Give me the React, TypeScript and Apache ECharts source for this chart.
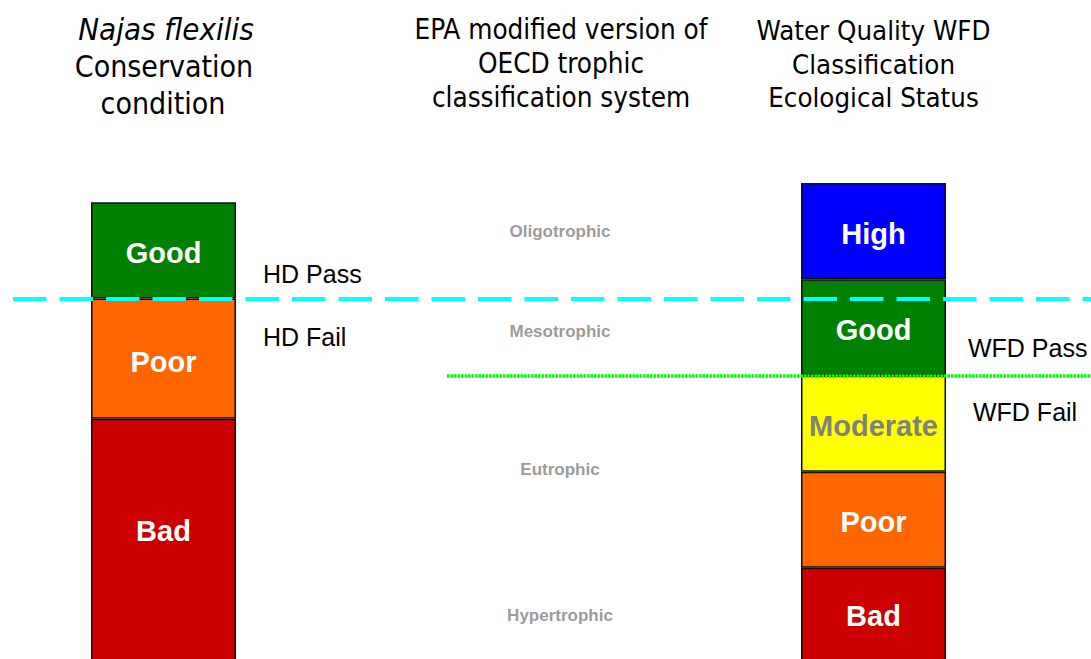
import React, { useEffect, useRef } from 'react';
import * as echarts from 'echarts';

// ---- data ----
const najasClasses = ['Bad', 'Poor', 'Good'];
const najasHeights = [2.55, 1.25, 1.0];
const najasColors = ['#CC0000', '#FF6600', '#008000'];

const wfdClasses = ['Bad', 'Poor', 'Moderate', 'Good', 'High'];
const wfdHeights = [1, 1, 1, 1, 1];
const wfdColors = ['#CC0000', '#FF6600', '#FFFF00', '#008000', '#0000FF'];

const trophicLabels = ['Oligotrophic', 'Mesotrophic', 'Eutrophic', 'Hypertrophic'];
const trophicLevels = [4.5, 3.46, 2.02, 0.5];

const hdThreshold = 3.8;
const wfdThreshold = 3.0;
const yMax = 6.8;

const leftTitle = ['Najas flexilis', 'Conservation', 'condition'];
const midTitle = ['EPA modified version of', 'OECD trophic', 'classification system'];
const rightTitle = ['Water Quality WFD', 'Classification', 'Ecological Status'];

const ARIAL = "'Liberation Sans', Arial, sans-serif";
const TITLE_FONT = "'DejaVu Sans Condensed', 'DejaVu Sans', sans-serif";

export default function App() {
  const ref = useRef<HTMLDivElement>(null);
  useEffect(() => {
    if (!ref.current) return;
    const chart = echarts.init(ref.current, null, { renderer: 'svg' });

    const gridBase = { top: 10, bottom: 0 };
    const grids = [
      { ...gridBase, left: 91, width: 145 },
      { ...gridBase, left: 801, width: 145 },
      { ...gridBase, left: 447, width: 226 },
      { ...gridBase, left: 13, right: 0 },
      { ...gridBase, left: 447, right: 0 },
    ];

    const barLabel = {
      show: true,
      position: 'inside',
      formatter: '{a}',
      fontFamily: ARIAL,
      fontWeight: 'bold',
      fontSize: 29,
      color: '#FFFFFF',
    };

    const najasSeries = najasClasses.map((name, i) => ({
      type: 'bar',
      name,
      xAxisIndex: 0,
      yAxisIndex: 0,
      stack: 'najas',
      barWidth: '100%',
      data: [najasHeights[i]],
      itemStyle: { color: najasColors[i], borderColor: '#111', borderWidth: 1.5 },
      label: { ...barLabel, offset: name === 'Bad' ? [0, -10] : [0, 3] },
    }));

    const wfdSeries = wfdClasses.map((name, i) => ({
      type: 'bar',
      name,
      xAxisIndex: 1,
      yAxisIndex: 1,
      stack: 'wfd',
      barWidth: '100%',
      data: [wfdHeights[i]],
      itemStyle: { color: wfdColors[i], borderColor: '#111', borderWidth: 1.5 },
      label: {
        ...barLabel,
        offset: name === 'Bad' ? [0, 0] : [0, 2.5],
        color: name === 'Moderate' ? '#808080' : '#FFFFFF',
      },
    }));

    const trophicSeries = {
      type: 'scatter',
      xAxisIndex: 2,
      yAxisIndex: 2,
      symbolSize: 1,
      itemStyle: { color: 'rgba(0,0,0,0)' },
      data: trophicLevels.map((v, i) => ({ value: [0, v], name: trophicLabels[i] })),
      label: {
        show: true,
        position: 'inside',
        formatter: '{b}',
        color: '#808080',
        fontWeight: 'bold',
        fontSize: 17,
        fontFamily: ARIAL,
      },
    };

    const hdLine = {
      type: 'line',
      xAxisIndex: 3,
      yAxisIndex: 3,
      data: [],
      z: 10,
      markLine: {
        silent: true,
        symbol: 'none',
        label: { show: false },
        lineStyle: { color: '#00FFFF', width: 4, type: [33.5, 13] },
        data: [{ yAxis: hdThreshold }],
        z: 10,
      },
    };

    const wfdLine = {
      type: 'line',
      xAxisIndex: 4,
      yAxisIndex: 4,
      data: [],
      z: 10,
      markLine: {
        silent: true,
        symbol: 'none',
        label: { show: false },
        lineStyle: { color: '#00FF00', width: 3.5, type: [2.6, 0.9] },
        data: [{ yAxis: wfdThreshold }],
        z: 10,
      },
    };

    const titleText = (text: string, x: number, y: number, size: number, italic = false) => ({
      type: 'text',
      x,
      y,
      style: {
        text,
        align: 'center',
        verticalAlign: 'middle',
        fontSize: size,
        fontFamily: TITLE_FONT,
        fontStyle: italic ? 'italic' : 'normal',
        fill: '#000',
      },
    });
    const noteText = (text: string, x: number, y: number) => ({
      type: 'text',
      x,
      y,
      style: {
        text,
        align: 'left',
        verticalAlign: 'middle',
        fontSize: 25,
        fontFamily: ARIAL,
        fill: '#000',
      },
    });

    const graphics = [
      titleText(leftTitle[0], 166, 29, 31, true),
      titleText(leftTitle[1], 164, 66, 30),
      titleText(leftTitle[2], 163, 103, 30),
      titleText(midTitle[0], 561, 29, 27.6),
      titleText(midTitle[1], 561, 63, 27.6),
      titleText(midTitle[2], 561, 97, 27.6),
      titleText(rightTitle[0], 873.5, 30, 27.4),
      titleText(rightTitle[1], 873.5, 64, 27.4),
      titleText(rightTitle[2], 873.5, 97, 27.4),
      noteText('HD Pass', 263, 274),
      noteText('HD Fail', 263, 337),
      noteText('WFD Pass', 968, 348),
      noteText('WFD Fail', 973, 412),
    ];

    const option = {
      animation: false,
      backgroundColor: '#FFFFFF',
      grid: grids,
      xAxis: grids.map((_, i) => ({ type: 'category', gridIndex: i, data: ['c'], show: false })),
      yAxis: grids.map((_, i) => ({ type: 'value', gridIndex: i, min: 0, max: yMax, show: false })),
      series: [...najasSeries, ...wfdSeries, trophicSeries, hdLine, wfdLine],
      graphic: graphics,
    };
    chart.setOption(option as any);
    return () => chart.dispose();
  }, []);
  return (
    <div
      ref={ref}
      style={{ position: 'fixed', left: 0, top: 0, width: 1091, height: 664, background: '#fff' }}
    />
  );
}
